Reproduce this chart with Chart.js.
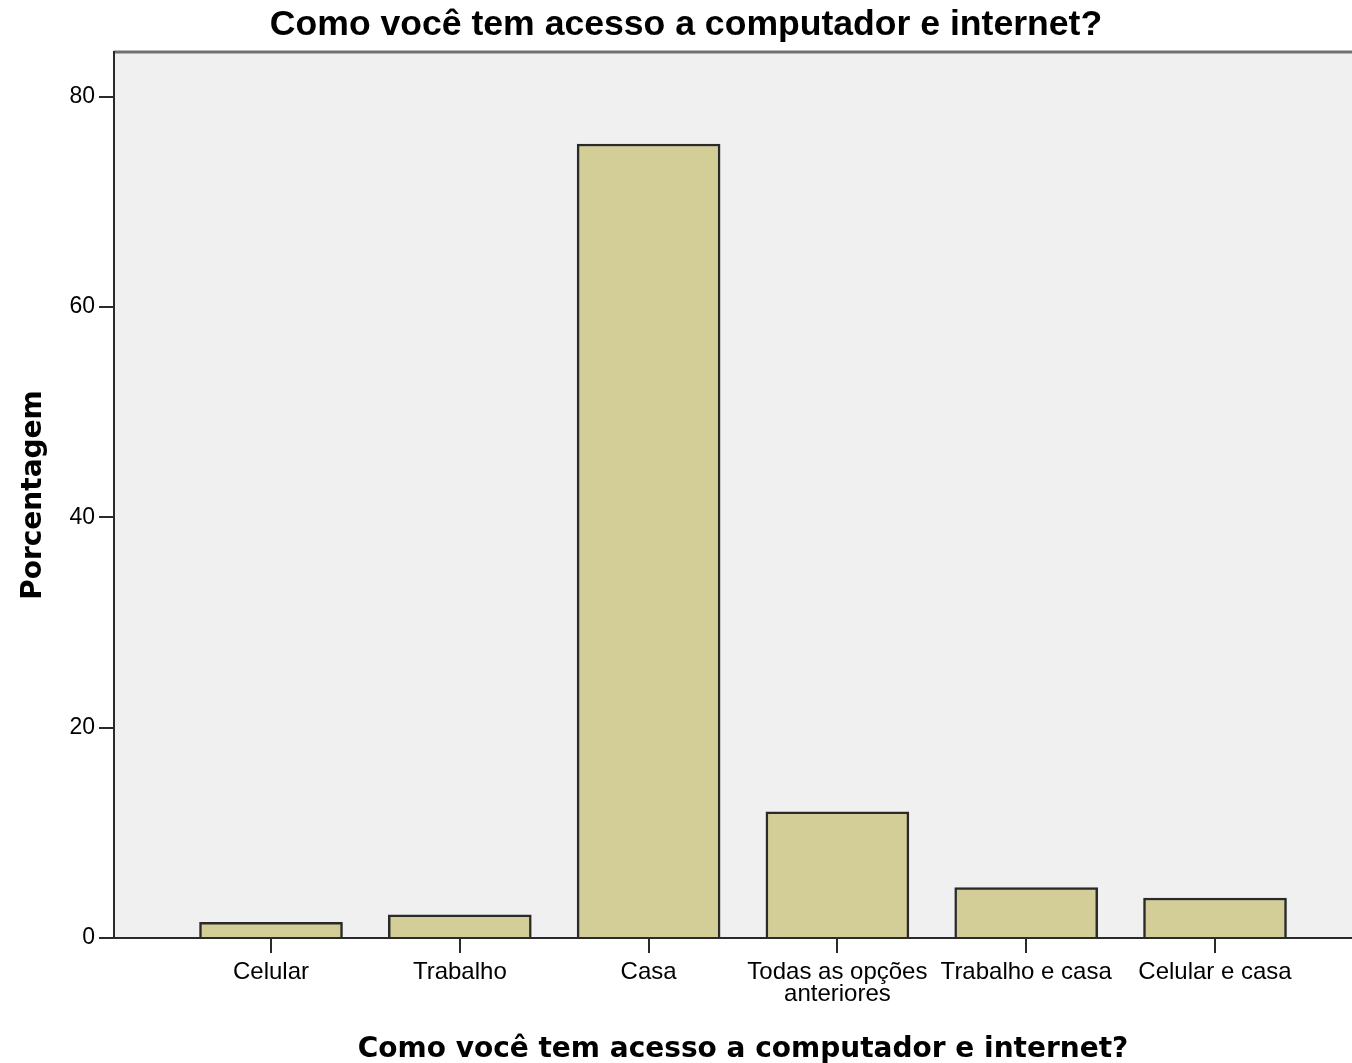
<!DOCTYPE html>
<html>
<head>
<meta charset="utf-8">
<script src="https://cdn.jsdelivr.net/npm/chart.js@4/dist/chart.umd.min.js"></script>
<style>
  html, body { margin: 0; padding: 0; background: #fff; overflow: hidden; }
</style>
</head>
<body>
<!-- plot frame runs past the right edge in the original, so the canvas is a bit wider than the window -->
<canvas id="chart" width="1372" height="1063"></canvas>
<script>
// ================= DATA =================
const chartTitle = "Como você tem acesso a computador e internet?";
const xTitle = "Como você tem acesso a computador e internet?";
const yTitle = "Porcentagem";

const categories = [
    "Celular",
    "Trabalho",
    "Casa",
    ["Todas as opções", "anteriores"],
    "Trabalho e casa",
    "Celular e casa"
];
const percentages = [1.5, 2.2, 75.5, 12.0, 4.8, 3.8];
const yTicks = [0, 20, 40, 60, 80];

// plot background + grey top frame line
const plotFrame = {
    id: "plotFrame",
    beforeDraw(c){
        const a = c.chartArea;
        const ctx = c.ctx;
        ctx.save();
        ctx.fillStyle = "#f0f0f0";
        ctx.fillRect(a.left, a.top, a.right - a.left, a.bottom - a.top);
        ctx.strokeStyle = "#707070";
        ctx.lineWidth = 3;
        ctx.beginPath();
        ctx.moveTo(a.left, a.top);
        ctx.lineTo(a.right, a.top);
        ctx.stroke();
        ctx.restore();
    }
};

document.addEventListener("DOMContentLoaded", () => {

    const ctx = document.getElementById("chart").getContext("2d");
    Chart.defaults.color = "#000";

    new Chart(ctx, {
        type: "bar",
        data: {
            datasets: [{
                data: percentages.map((v, i) => ({ x: i + 1, y: v })),
                backgroundColor: "#d3ce98",
                borderColor: "#2a2a2a",
                borderWidth: 2.5,
                barThickness: 143
            }]
        },
        options: {
            animation: false,
            responsive: false,
            devicePixelRatio: 1,
            layout: { padding: 0 },
            scales: {
                x: {
                    type: "linear",
                    offset: false,
                    min: 0.1684,
                    max: 6.8315,
                    afterBuildTicks: s => { s.ticks = categories.map((_, i) => ({ value: i + 1 })); },
                    afterFit: s => { s.height = 125; },
                    ticks: {
                        autoSkip: false,
                        maxRotation: 0,
                        padding: 8,
                        font: { family: "Liberation Sans", size: 24, lineHeight: 0.92 },
                        callback: v => categories[v - 1]
                    },
                    grid: {
                        offset: false,
                        drawOnChartArea: false,
                        tickLength: 15,
                        color: "#2a2a2a",
                        lineWidth: 2
                    },
                    border: { color: "#2a2a2a", width: 2 },
                    title: {
                        display: true,
                        text: xTitle,
                        padding: { top: 0, bottom: 0 },
                        font: { family: "DejaVu Sans", size: 28, weight: "bold", lineHeight: 0.92 }
                    }
                },
                y: {
                    min: 0,
                    max: 84.25,
                    afterBuildTicks: s => { s.ticks = yTicks.map(v => ({ value: v })); },
                    afterFit: s => { s.width = 114; },
                    ticks: {
                        padding: 4,
                        font: { family: "Liberation Sans", size: 23 }
                    },
                    grid: {
                        drawOnChartArea: false,
                        tickLength: 15,
                        color: "#2a2a2a",
                        lineWidth: 2
                    },
                    border: { color: "#2a2a2a", width: 2 },
                    title: {
                        display: true,
                        text: yTitle,
                        padding: { top: 17, bottom: 0 },
                        font: { family: "DejaVu Sans", size: 28, weight: "bold" }
                    }
                }
            },
            plugins: {
                legend: { display: false },
                tooltip: { enabled: false },
                title: {
                    display: true,
                    text: chartTitle,
                    color: "#000",
                    padding: { top: 4, bottom: 5.3 },
                    font: { family: "Liberation Sans", size: 35.6, weight: "bold", lineHeight: 1.2 }
                }
            }
        },
        plugins: [plotFrame]
    });
});
</script>
</body>
</html>
